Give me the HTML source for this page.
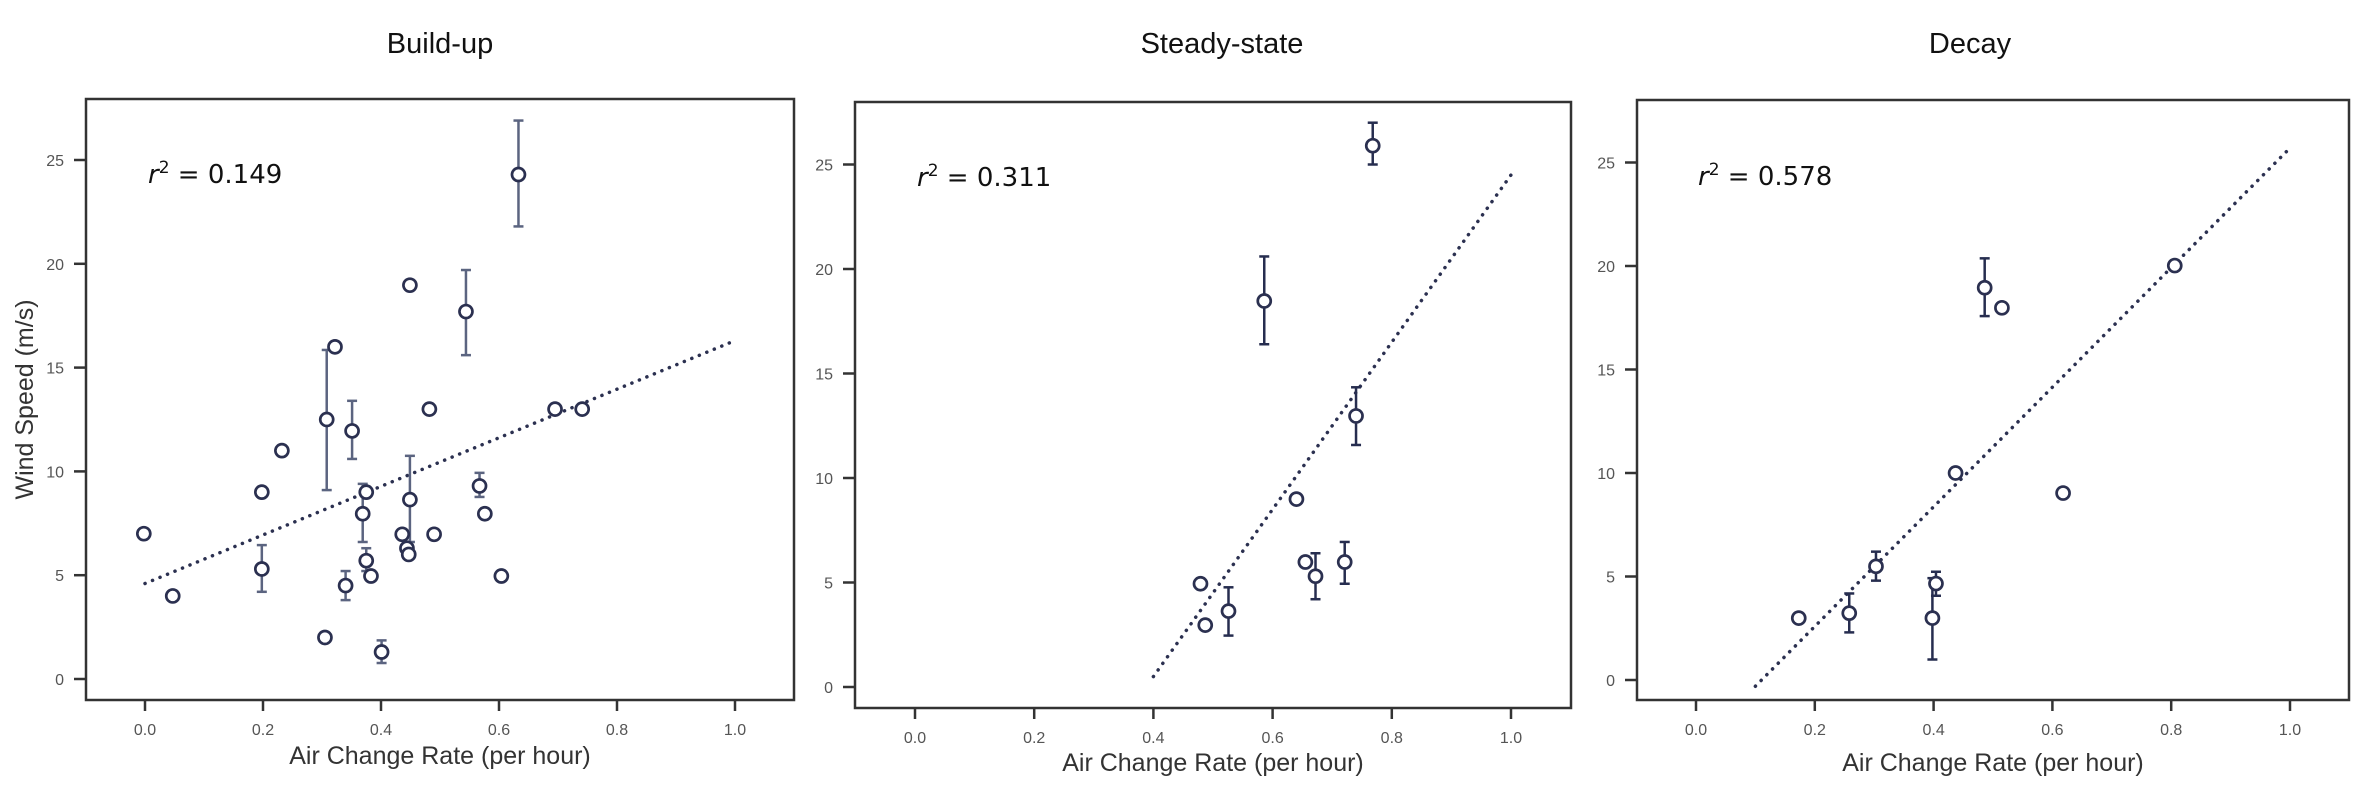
<!DOCTYPE html>
<html><head><meta charset="utf-8"><style>
body{margin:0;background:#fff;}
svg{display:block;font-family:"Liberation Sans",sans-serif;}
</style></head><body>
<svg id="fig" width="2353" height="793" viewBox="0 0 2353 793"></svg>
<script>
// Panel 1: Build-up
const buildX = [-0.002,0.047,0.198,0.198,0.232,0.305,0.308,0.322,0.340,0.351,0.369,0.375,0.375,0.383,0.401,0.436,0.444,0.447,0.449,0.449,0.482,0.490,0.544,0.567,0.576,0.604,0.633,0.695,0.741];
const buildY = [7.0,4.0,9.0,5.3,11.0,2.0,12.5,16.0,4.5,11.95,7.96,9.0,5.7,4.96,1.3,6.97,6.3,6.0,8.64,18.97,13.0,6.97,17.7,9.3,7.96,4.96,24.3,13.0,13.0];
const buildErrLo = [0,0,0,4.2,0,0,9.1,0,3.8,10.6,6.6,0,5.2,0,0.77,0,0,0,6.6,0,0,0,15.6,8.77,0,0,21.8,0,0];
const buildErrHi = [0,0,0,6.45,0,0,15.85,0,5.2,13.4,9.4,0,6.3,0,1.86,0,0,0,10.75,0,0,0,19.7,9.93,0,0,26.9,0,0];
const buildFit = [0.0,4.6,1.0,16.3];
// Panel 2: Steady-state
const steadyX = [0.768,0.586,0.740,0.640,0.655,0.672,0.721,0.479,0.487,0.526];
const steadyY = [25.9,18.47,12.97,8.99,5.98,5.3,5.98,4.94,2.96,3.63];
const steadyErrLo = [25.0,16.4,11.58,0,0,4.2,4.94,0,0,2.46];
const steadyErrHi = [27.0,20.6,14.34,0,0,6.4,6.94,0,0,4.77];
const steadyFit = [0.4,0.5,1.0,24.5];
// Panel 3: Decay
const decayX = [0.173,0.258,0.303,0.398,0.404,0.437,0.486,0.515,0.618,0.806];
const decayY = [2.99,3.23,5.49,2.99,4.66,10.0,18.95,17.98,9.03,20.02];
const decayErrLo = [0,2.3,4.8,0.99,4.07,0,17.58,0,0,0];
const decayErrHi = [0,4.18,6.2,4.92,5.23,0,20.37,0,0,0];
const decayFit = [0.1,-0.3,1.0,25.7];

const xTicks = [0.0,0.2,0.4,0.6,0.8,1.0];
const xTickLabels = ["0.0","0.2","0.4","0.6","0.8","1.0"];
const yTicks = [0,5,10,15,20,25];
const yTickLabels = ["0","5","10","15","20","25"];
const rLabels = ["0.149","0.311","0.578"];
const titles = ["Build-up","Steady-state","Decay"];

const NS="http://www.w3.org/2000/svg";
const svg=document.getElementById('fig');
function mk(tag,attrs,parent){const e=document.createElementNS(NS,tag);for(const k in attrs)e.setAttribute(k,attrs[k]);(parent||svg).appendChild(e);return e;}

const panels=[
 {x0:145,ux:590,y0:679,uy:20.76,L:86,R:794,T:99,B:700,title:440,xs:buildX,ys:buildY,lo:buildErrLo,hi:buildErrHi,fit:buildFit,err:"#5b6480",rx:148,ry:183,xt:764,ylab:true},
 {x0:915,ux:596,y0:687,uy:20.9,L:855,R:1571,T:102,B:708,title:1222,xs:steadyX,ys:steadyY,lo:steadyErrLo,hi:steadyErrHi,fit:steadyFit,err:"#262d4f",rx:917,ry:186,xt:771,ylab:false},
 {x0:1696,ux:594,y0:680,uy:20.7,L:1637,R:2349,T:100,B:700,title:1970,xs:decayX,ys:decayY,lo:decayErrLo,hi:decayErrHi,fit:decayFit,err:"#262d4f",rx:1698,ry:185,xt:771,ylab:false}
];
const names=["build-up","steady-state","decay"];

panels.forEach((p,pi)=>{
 const sx=v=>p.x0+v*p.ux, sy=v=>p.y0-v*p.uy;
 const g=mk('g',{});
 
 
 const t=mk('text',{x:p.title,y:53,'text-anchor':'middle','font-size':29,fill:'#111'},g);
 t.textContent=titles[pi];
 
 
 const fr=mk('rect',{x:p.L,y:p.T,width:p.R-p.L,height:p.B-p.T,fill:'none',stroke:'#333','stroke-width':2.5},g);
 
 
 xTicks.forEach((v,i)=>{
  const X=sx(v);
  mk('line',{x1:X,x2:X,y1:p.B,y2:p.B+11,stroke:'#333','stroke-width':2.5},g);
  const tl=mk('text',{x:X,y:p.B+35,'text-anchor':'middle','font-size':16,fill:'#555'},g);
  tl.textContent=xTickLabels[i];
  
  
 });
 yTicks.forEach((v,i)=>{
  const Y=sy(v);
  mk('line',{x1:p.L-12,x2:p.L,y1:Y,y2:Y,stroke:'#333','stroke-width':2.5},g);
  const tl=mk('text',{x:p.L-22,y:Y+6,'text-anchor':'end','font-size':16,fill:'#555'},g);
  tl.textContent=yTickLabels[i];
  
  
 });
 const xa=mk('text',{x:(p.L+p.R)/2,y:p.xt,'text-anchor':'middle','font-size':25,fill:'#333'},g);
 xa.textContent="Air Change Rate (per hour)";
 
 
 if(p.ylab){
  const ya=mk('text',{x:0,y:0,'text-anchor':'middle','font-size':25,fill:'#333',transform:'translate(33,'+((p.T+p.B)/2)+') rotate(-90)'},g);
  ya.textContent="Wind Speed (m/s)";
  
  
 }
 const r=mk('text',{x:p.rx,y:p.ry,'font-size':26,fill:'#111','font-family':'"DejaVu Sans",sans-serif'},g);
 r.innerHTML='<tspan font-style="italic">r</tspan><tspan dy="-10" font-size="17">2</tspan><tspan dy="10"> = '+rLabels[pi]+'</tspan>';
 
 
 const fl=mk('line',{x1:sx(p.fit[0]),y1:sy(p.fit[1]),x2:sx(p.fit[2]),y2:sy(p.fit[3]),stroke:'#2b3050','stroke-width':3.5,'stroke-dasharray':'0.1 8','stroke-linecap':'round'},g);
 
 
 p.xs.forEach((xv,i)=>{
  const X=sx(xv);
  if(p.hi[i]>0){
   const eb=mk('g',{stroke:p.err,'stroke-width':2.5},g);
   
   
   mk('line',{x1:X,x2:X,y1:sy(p.lo[i]),y2:sy(p.hi[i])},eb);
   mk('line',{x1:X-5,x2:X+5,y1:sy(p.lo[i]),y2:sy(p.lo[i])},eb);
   mk('line',{x1:X-5,x2:X+5,y1:sy(p.hi[i]),y2:sy(p.hi[i])},eb);
  }
 });
 p.xs.forEach((xv,i)=>{
  const c=mk('circle',{cx:sx(xv),cy:sy(p.ys[i]),r:6.5,fill:'#fff',stroke:'#2b3050','stroke-width':2.7},g);
  
  
 });
});
</script>
</body></html>
